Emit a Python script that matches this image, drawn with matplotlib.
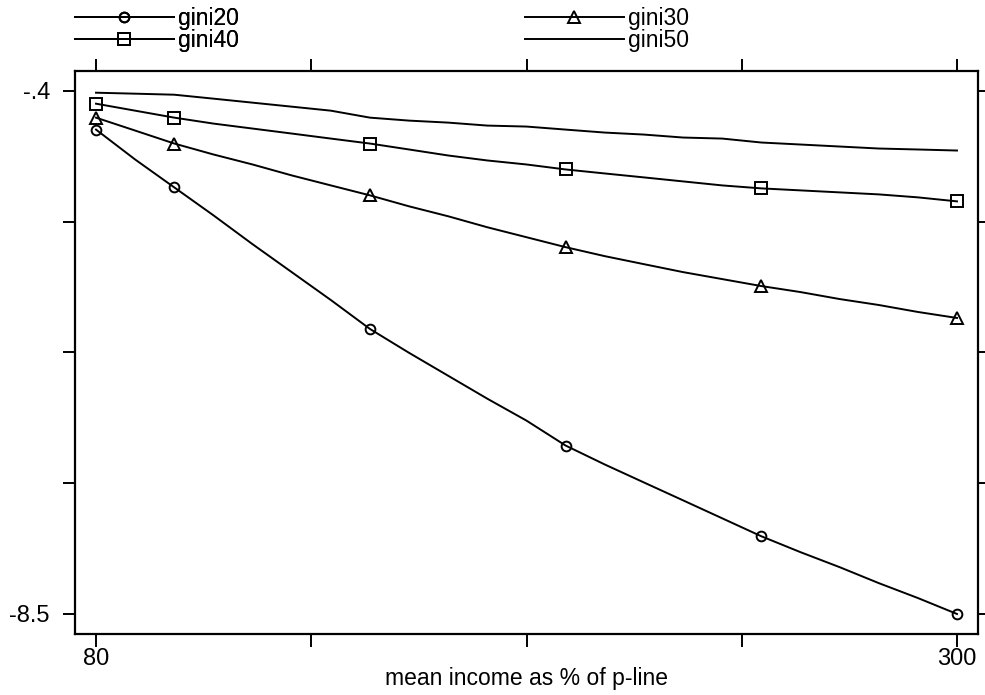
import matplotlib
matplotlib.use("Agg")
import matplotlib.pyplot as plt

plt.rcParams['font.family'] = ['Liberation Sans', 'DejaVu Sans']

income = [80, 90, 100, 110, 120, 130, 140, 150, 160, 170, 180, 190, 200,
          210, 220, 230, 240, 250, 260, 270, 280, 290, 300]
gini20 = [-1.002, -1.465, -1.897, -2.329, -2.776, -3.208, -3.640, -4.088, -4.458,
          -4.813, -5.168, -5.507, -5.893, -6.186, -6.464, -6.741, -7.019, -7.297,
          -7.543, -7.775, -8.022, -8.253, -8.5]
gini30 = [-0.817, -1.017, -1.218, -1.387, -1.542, -1.711, -1.866, -2.020, -2.190,
          -2.344, -2.514, -2.668, -2.822, -2.961, -3.085, -3.208, -3.316, -3.424,
          -3.517, -3.625, -3.717, -3.825, -3.918]
gini40 = [-0.601, -0.709, -0.817, -0.909, -0.986, -1.063, -1.141, -1.218, -1.310,
          -1.403, -1.480, -1.542, -1.619, -1.681, -1.742, -1.804, -1.866, -1.912,
          -1.943, -1.974, -2.005, -2.051, -2.113]
gini50 = [-0.431, -0.446, -0.462, -0.523, -0.585, -0.647, -0.709, -0.817, -0.863,
          -0.894, -0.940, -0.955, -1.002, -1.048, -1.079, -1.125, -1.141, -1.202,
          -1.233, -1.264, -1.295, -1.310, -1.326]
marker_x = [80, 100, 150, 200, 250, 300]

x_ticks = [80, 135, 190, 245, 300]
x_ticklabels = ['80', '', '', '', '300']
y_ticks = [-0.4, -2.425, -4.45, -6.475, -8.5]
y_ticklabels = ['-.4', '', '', '', '-8.5']
xlabel = 'mean income as % of p-line'

W, H = 985, 695
fig = plt.figure(figsize=(W / 100, H / 100), dpi=100)
ax = fig.add_axes([75 / W, 1 - 634 / H, (978 - 75) / W, (634 - 71) / H])

mk_idx = [income.index(v) for v in marker_x]
series = [(gini20, 'o', 7, 'gini20'), (gini30, '^', 8.5, 'gini30'),
          (gini40, 's', 8, 'gini40'), (gini50, None, 0, 'gini50')]
handles = {}
for ys, m, ms, lab in series:
    ln, = ax.plot(income, ys, color='black', lw=1.4, marker=m, markersize=ms,
                  markevery=mk_idx if m else None, fillstyle='none',
                  markeredgewidth=1.4, label=lab)
    handles[lab] = ln

ax.set_xlim(74.63, 305.37)
ax.set_ylim(-8.81, -0.095)
ax.set_xticks(x_ticks)
ax.set_xticklabels(x_ticklabels)
ax.set_yticks(y_ticks)
ax.set_yticklabels(y_ticklabels)
ax.tick_params(axis='both', direction='out', length=9, width=1.4, labelsize=17,
               top=True, right=True, color='black')
ax.tick_params(axis='x', pad=1)
ax.tick_params(axis='y', pad=9)
for s in ax.spines.values():
    s.set_linewidth(1.6)
ax.set_xlabel(xlabel, fontsize=16.5, labelpad=-2)

leg_kw = dict(loc='upper left', frameon=False, fontsize=16.5, handlelength=4.3,
              handletextpad=0.2, labelspacing=-0.05, borderaxespad=0, borderpad=0)
leg1 = fig.legend([handles['gini20'], handles['gini40']], ['gini20', 'gini40'],
                  bbox_to_anchor=(75 / W, 1 - 7 / H), **leg_kw)
fig.add_artist(leg1)
fig.legend([handles['gini30'], handles['gini50']], ['gini30', 'gini50'],
           bbox_to_anchor=(525 / W, 1 - 7 / H), **leg_kw)

fig.savefig('out.png', dpi=100)
